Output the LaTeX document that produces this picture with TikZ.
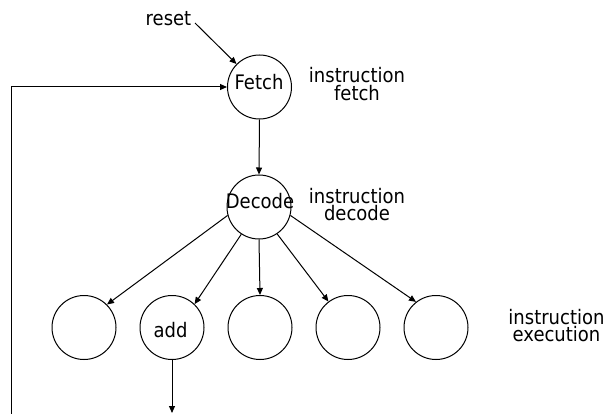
\documentclass[tikz,border=0pt]{standalone}
\usepackage{fontspec}
\setmainfont{DejaVu Sans}[FakeStretch=0.9]
\usetikzlibrary{arrows.meta}
\begin{document}
\begin{tikzpicture}[x=1pt,y=-1pt,
  statecircle/.style={circle,draw,line width=1pt,minimum size=64pt,inner sep=0pt},
  txt/.style={inner sep=0pt,font=\fontsize{20}{17.5}\selectfont,align=center},
  conn/.style={line width=1pt,-{Triangle[length=7pt,width=6pt]}}]
\useasboundingbox (0,0) rectangle (610,414);
\node[statecircle] (fetch) at (259.5,87) {};
\node[statecircle] (decode) at (259,207) {};
\node[statecircle] (c1) at (84,327.5) {};
\node[statecircle] (c2) at (172,327.5) {};
\node[statecircle] (c3) at (260,327.5) {};
\node[statecircle] (c4) at (348,327.5) {};
\node[statecircle] (c5) at (436,327.5) {};
\node[txt] (fetchtxt) at (259,82) {Fetch};
\node[txt] (decodetxt) at (260,201.5) {Decode};
\node[txt] (addtxt) at (170.5,330.5) {add};
\node[txt] (resettxt) at (168.5,18.5) {reset};
\node[txt] (lblfetch) at (357,84) {instruction\\fetch};
\node[txt] (lbldecode) at (357,204.5) {instruction\\decode};
\node[txt] (lblexec) at (556.5,325.5) {instruction\\execution};
\coordinate (rst) at (195,23);
\coordinate (loopbot) at (11.7,414);
\coordinate (addout) at (172,413);
\draw[conn] (rst) -- (fetch.135);
\draw[conn] (loopbot) |- (fetch.west);
\draw[conn] (fetch.south) -- (decode.north);
\draw[conn] (decode.195) -- (c1.45);
\draw[conn] (decode.237) -- (c2.46);
\draw[conn] (decode.south) -- (c3.north);
\draw[conn] (decode.304) -- (c4.127);
\draw[conn] (decode.345) -- (c5.128);
\draw[conn] (c2.south) -- (addout);
\end{tikzpicture}
\end{document}
